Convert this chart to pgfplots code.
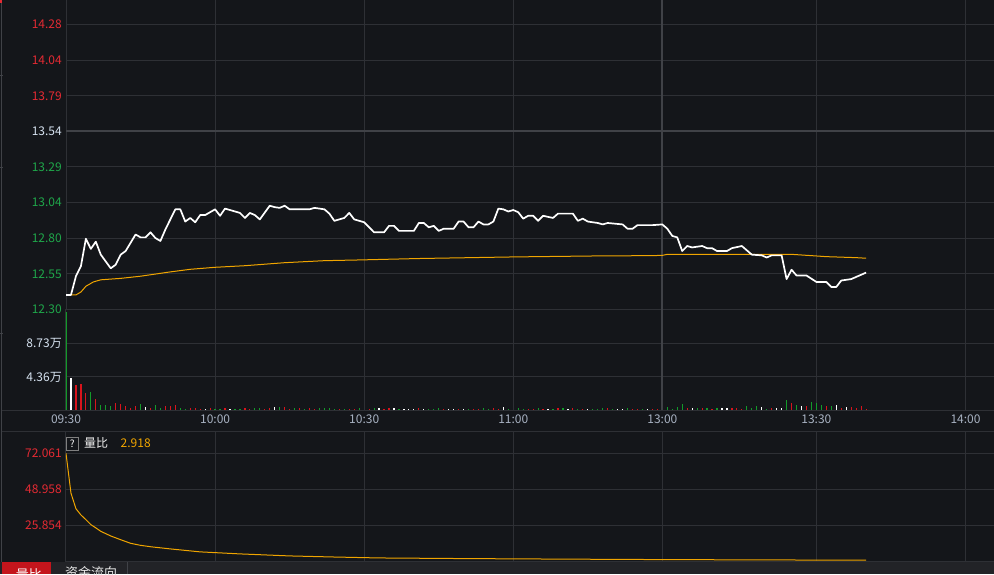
\documentclass[border=0pt]{standalone}
\usepackage{fontspec}
\setmainfont{Noto Sans CJK SC}
\usepackage{pgfplots}
\pgfplotsset{compat=1.18}
\definecolor{bg}{HTML}{14161A}
\definecolor{gridc}{HTML}{2E3035}
\definecolor{gridb}{HTML}{404247}
\definecolor{pred}{HTML}{E42A33}
\definecolor{pgreen}{HTML}{1FA64A}
\definecolor{pwhite}{HTML}{D6E2F0}
\definecolor{timec}{HTML}{A8B2C2}
\definecolor{avgc}{HTML}{F0A500}
\definecolor{volred}{HTML}{D8141C}
\definecolor{volgreen}{HTML}{139A2A}
\definecolor{tabbg}{HTML}{222327}
\definecolor{tabred}{HTML}{C4151C}
\pgfplotsset{
  panel/.style={
    scale only axis, width=938pt, anchor=south west,
    xmin=0, xmax=188.75,
    axis line style={draw=gridc, line width=1pt},
    xmajorgrids, ymajorgrids,
    major grid style={draw=gridc, line width=1pt},
    major tick length=0pt,
    tick style={draw=none},
    /pgf/number format/assume math mode=true,
    yticklabel style={font=\fontsize{12}{12}\selectfont, anchor=base east, inner sep=0pt, xshift=-4pt, yshift=-4.4pt},
    xticklabel style={font=\fontsize{12}{12}\selectfont, text=timec, anchor=base, inner sep=0pt, yshift=-13.5pt},
    xtick={0,30,60,90,151,181},
    extra x ticks={120},
  }
}
\begin{document}
\begin{tikzpicture}[x=1pt,y=1pt]
\useasboundingbox (0,0) rectangle (994,574);
\clip (0,0) rectangle (994,574);
\fill[bg] (0,0) rectangle (994,574);
% bottom tab bar
\fill[tabbg] (0,0) rectangle (994,12.3);
\fill[tabred] (1.7,0) rectangle (50.7,12.3);
\node[anchor=north, inner sep=0pt, text=white, font=\fontsize{13}{13}\selectfont] at (29,5.2) {量比};
\node[anchor=north, inner sep=0pt, text=white!80!gray, font=\fontsize{13}{13}\selectfont] at (91,7.8) {资金流向};
\draw[gridb, line width=1pt] (127.7,0) -- (127.7,12.3);
% left gutter
\draw[gridb, line width=1pt] (1.7,12.3) -- (1.7,574);
\fill[pred] (0,571.3) rectangle (1.7,574);
\draw[gridc, line width=1pt] (1.7,164) -- (66,164);
\draw[gridc, line width=1pt] (1.7,142.5) -- (66,142.5);
\draw[gridb, line width=1pt] (0,498) -- (3,498);
\draw[gridb, line width=1pt] (0,406) -- (3,406);
\draw[gridb, line width=1pt] (0,241) -- (3,241);

% ---------------- price panel ----------------
\begin{axis}[panel, at={(66pt,264.7pt)}, height=319.3pt,
  ymin=12.30, ymax=14.5195,
  xticklabels={}, extra x tick labels={},
  extra x tick style={major grid style={draw=gridb, line width=2pt}},
  ytick={12.30,12.5475,12.795,13.0425,13.29,13.785,14.0325,14.28},
  yticklabels={\textcolor{pgreen}{12.30},\textcolor{pgreen}{12.55},\textcolor{pgreen}{12.80},\textcolor{pgreen}{13.04},\textcolor{pgreen}{13.29},\textcolor{pred}{13.79},\textcolor{pred}{14.04},\textcolor{pred}{14.28}},
  extra y ticks={13.5375},
  extra y tick labels={\textcolor{pwhite}{13.54}},
  extra y tick style={major grid style={draw=gridb, line width=2pt}},
]
\addplot[avgc, line width=1pt] table {
0 12.40
2 12.40
3 12.42
4 12.46
5.5 12.49
7 12.505
11 12.515
15 12.53
21 12.56
25 12.578
30 12.592
36 12.603
44 12.624
52 12.638
59 12.643
71 12.653
90 12.664
107 12.671
118 12.673
120 12.675
121 12.682
146 12.682
150 12.673
153 12.666
159 12.659
161 12.655
};
\addplot[white, line width=1.7pt, line join=round] table {
0 12.40
1 12.40
2 12.53
3 12.60
4 12.79
5 12.72
6 12.77
7 12.68
9 12.585
10 12.61
11 12.68
12 12.705
14 12.82
15 12.80
16 12.80
17 12.835
18 12.795
19 12.775
20 12.855
22 12.995
23 12.995
24 12.91
25 12.935
26 12.905
27 12.955
28 12.955
30 12.995
31 12.95
32 13.00
34 12.98
35 12.97
36 12.935
37 12.97
38 12.955
39 12.925
41 13.02
42 13.01
43 13.005
44 13.02
45 12.995
49 12.995
50 13.005
52 12.995
53 12.965
54 12.915
56 12.935
57 12.97
58 12.925
60 12.905
62 12.835
64 12.835
65 12.88
66 12.88
67 12.845
70 12.845
71 12.90
72 12.90
73 12.87
74 12.88
75 12.845
76 12.86
78 12.86
79 12.91
80 12.91
81 12.87
82 12.87
83 12.91
84 12.89
85 12.89
86 12.91
87 13.00
88 12.995
89 12.98
90 12.99
91 12.975
92 12.93
93 12.95
94 12.95
95 12.915
96 12.95
98 12.935
99 12.965
102 12.965
103 12.915
104 12.93
105 12.91
107 12.90
108 12.89
109 12.90
112 12.89
113 12.86
114 12.86
115 12.885
118 12.885
120 12.89
121 12.86
122 12.81
123 12.80
124 12.705
125 12.74
126 12.73
128 12.74
129 12.725
130 12.725
131 12.705
133 12.705
134 12.725
136 12.74
137 12.71
138 12.68
140 12.675
141 12.66
142 12.675
144 12.675
145 12.51
146 12.575
147 12.535
149 12.535
151 12.49
153 12.49
154 12.455
155 12.455
156 12.50
157 12.505
158 12.51
160 12.54
161 12.555
};
\end{axis}

% ---------------- volume panel ----------------
\begin{axis}[panel, at={(66pt,164pt)}, height=100.7pt,
  ymin=0, ymax=13.2,
  xticklabels={09:30,10:00,10:30,11:00,13:30,14:00},
  extra x tick labels={13:00},
  extra x tick style={major grid style={draw=gridb, line width=2pt}},
  ytick={4.365,8.73},
  yticklabels={\textcolor{pwhite}{4.36万},\textcolor{pwhite}{8.73万}},
]
\addplot[ycomb, draw=volred, line width=1.2pt, mark=none] table {
2 3.29
3 3.38
4 2.21
6 1.43
10 0.91
11 0.82
12 0.52
13 0.30
14 0.52
17 0.30
20 0.52
21 0.52
22 0.65
25 0.26
26 0.20
27 0.13
29 0.26
32 0.26
36 0.20
37 0.13
40 0.13
41 0.26
44 0.39
45 0.13
47 0.20
49 0.26
50 0.13
55 0.13
57 0.13
58 0.13
61 0.13
64 0.13
65 0.26
71 0.26
76 0.10
79 0.10
82 0.10
83 0.10
86 0.26
87 0.10
93 0.10
94 0.10
96 0.10
99 0.26
102 0.26
104 0.10
109 0.26
114 0.10
115 0.10
118 0.13
119 0.13
125 0.26
128 0.26
130 0.13
134 0.26
135 0.26
136 0.13
142 0.26
146 0.91
149 0.52
153 0.52
156 0.26
158 0.39
159 0.26
160 0.52
161 0.13
};
\addplot[ycomb, draw=volgreen, line width=1.2pt, mark=none] table {
0 12.88
5 2.34
7 0.65
8 0.65
9 0.52
15 0.78
18 0.65
19 0.26
23 0.30
24 0.13
30 0.13
31 0.13
34 0.13
35 0.13
38 0.26
39 0.26
43 0.39
46 0.26
48 0.13
51 0.26
52 0.26
53 0.26
54 0.13
56 0.13
59 0.26
62 0.26
67 0.13
73 0.13
74 0.13
75 0.26
81 0.10
84 0.26
85 0.10
89 0.10
91 0.26
92 0.10
95 0.26
98 0.10
100 0.26
103 0.10
106 0.10
107 0.10
108 0.26
110 0.10
113 0.26
116 0.13
121 0.39
122 0.13
123 0.39
124 0.78
127 0.26
129 0.26
131 0.26
137 0.52
138 0.26
139 0.52
141 0.13
145 1.30
147 0.65
150 1.04
151 0.91
152 0.65
154 0.52
};
\addplot[ycomb, draw=white, line width=1.2pt, mark=none] table {
1 4.15
16 0.39
28 0.13
33 0.13
42 0.39
63 0.26
66 0.26
68 0.13
69 0.13
70 0.13
72 0.13
77 0.13
78 0.13
80 0.13
88 0.39
97 0.13
101 0.13
105 0.13
111 0.13
112 0.13
117 0.13
126 0.26
132 0.26
133 0.26
140 0.39
143 0.26
144 0.26
148 0.52
155 0.65
157 0.39
};
\end{axis}

% ---------------- ratio panel ----------------
\begin{axis}[panel, at={(66pt,12.7pt)}, height=129.8pt,
  ymin=2.75, ymax=86.05,
  xticklabels={}, extra x tick labels={},
  ytick={25.854,48.958,72.061},
  yticklabels={\textcolor{pred}{25.854},\textcolor{pred}{48.958},\textcolor{pred}{72.061}},
]
\addplot[avgc, line width=1pt] table {
0 72.06
1 46.5
2 36.5
3 32.5
4 29.5
5 26.3
6 24.2
7 22.0
9 19.0
11 16.6
13 14.3
15 13.0
17 12.1
21 10.7
27 8.8
35 7.5
45 6.2
54 5.5
63 4.9
80 4.5
100 4.15
120 3.85
140 3.65
161 3.45
};
\end{axis}
% header of ratio panel
\draw[gray, line width=0.8pt] (66,124) rectangle (78.5,136.7);
\node[inner sep=0pt, text=white, font=\fontsize{10}{10}\selectfont] at (72.2,130.3) {?};
\node[anchor=base west, inner sep=0pt, text=white!90!gray, font=\fontsize{12}{12}\selectfont] at (84,126.2) {量比};
\node[anchor=base west, inner sep=0pt, text=avgc, font=\fontsize{12}{12}\selectfont] at (120.5,126.2) {2.918};
\end{tikzpicture}
\end{document}
